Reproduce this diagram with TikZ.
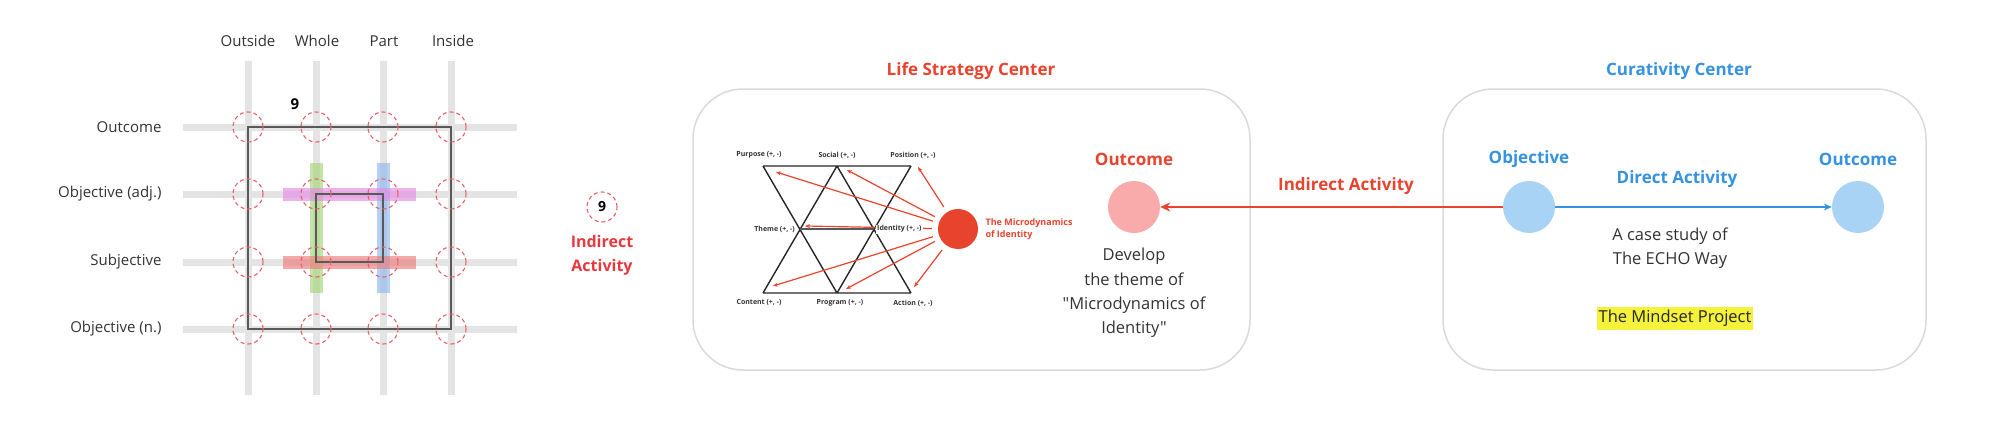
\documentclass[tikz,border=0pt]{standalone}
\usepackage{fontspec}
\setmainfont{Open Sans}[Ligatures=TeXOff]
\usetikzlibrary{arrows.meta}
\definecolor{gridgray}{HTML}{E4E4E4}
\definecolor{ringred}{HTML}{E8606A}
\definecolor{lifered}{HTML}{E8432D}
\definecolor{actred}{HTML}{E8383F}
\definecolor{curablue}{HTML}{3592E0}
\definecolor{dotblue}{HTML}{A9D3F5}
\definecolor{dotpink}{HTML}{F9AAAA}
\definecolor{boxgray}{HTML}{DADADA}
\definecolor{textgray}{HTML}{333333}
\definecolor{markyellow}{HTML}{F4F23A}
\definecolor{barpink}{HTML}{E38BE3}
\definecolor{barred}{HTML}{EE7B7B}
\definecolor{bargreen}{HTML}{A6D67A}
\definecolor{barblue}{HTML}{8FB8EE}
\begin{document}
\begin{tikzpicture}[x=1pt, y=-1pt,
    axlabel/.style={font=\fontsize{15}{18}\selectfont, text=textgray},
    gridline/.style={gridgray, line width=7pt},
    band/.style={line width=13pt, opacity=0.65},
    frame/.style={black!65, line width=1.2pt},
    ring/.style={circle, draw=ringred, dash pattern=on 4pt off 3pt, line width=1.1pt, minimum size=30pt, inner sep=0pt},
    hub/.style={rounded corners=50pt, draw=boxgray, line width=1.5pt},
    title/.style={font=\fontsize{17}{20}\selectfont\bfseries},
    body/.style={font=\fontsize{16.5}{24.3}\selectfont, text=textgray, align=center},
    dot/.style={circle, minimum size=52pt, inner sep=0pt},
    vlabel/.style={font=\fontsize{7}{8}\selectfont\bfseries, text=textgray, inner sep=1pt},
    ray/.style={lifered, line width=1.2pt, -{Stealth[length=5pt,width=4pt]}, shorten <=6pt}
]
\useasboundingbox (0,0) rectangle (2000,428);

\foreach \x in {248,316,383,451} \draw[gridline] (\x,61) -- (\x,395);
\foreach \y in {127,194,262,329} \draw[gridline] (183,\y) -- (517,\y);

\node[axlabel] (outside) at (248,41) {Outside};
\node[axlabel] (whole) at (317,41) {Whole};
\node[axlabel] (part) at (384,41) {Part};
\node[axlabel] (inside) at (453,41) {Inside};
\node[axlabel, anchor=east] (outcome) at (165,127) {Outcome};
\node[axlabel, anchor=east] (objadj) at (165,194) {Objective (adj.)};
\node[axlabel, anchor=east] (subjective) at (165,262) {Subjective};
\node[axlabel, anchor=east] (objn) at (165,329) {Objective (n.)};

\draw[band, bargreen] (316,163) -- (316,293);
\draw[band, barblue] (383,163) -- (383,293);
\draw[band, barpink] (283,194) -- (416,194);
\draw[band, barred] (283,262) -- (416,262);

\draw[frame] (248,127) rectangle (451,329);
\draw[frame] (316,194) rectangle (383,262);

\foreach \x in {248,316,383,451}
  \foreach \y in {127,194,262,329}
    \node[ring] (ring-\x-\y) at (\x,\y) {};
\node[font=\fontsize{15}{18}\selectfont\bfseries] (nine) at (295,104) {9};

\node[ring, font=\fontsize{14}{16}\selectfont\bfseries] (badge) at (602,207) {9};
\node[align=center, text=actred, font=\fontsize{16}{24}\selectfont\bfseries] (indirect) at (602,255) {Indirect\\Activity};

\draw[hub] (693,89) rectangle (1250,370);
\node[title, text=lifered] (lifetitle) at (971,71) {Life Strategy Center};

\coordinate (tl) at (763,166);
\coordinate (tm) at (837,166);
\coordinate (tr) at (911,166);
\coordinate (bl) at (763,293);
\coordinate (bm) at (837,293);
\coordinate (br) at (911,293);
\coordinate (ml) at (800,229);
\coordinate (mr) at (874,229);
\draw[frame, black!85, line width=1.4pt] (tl) -- (tr) (bl) -- (br) (tl) -- (bm) (tm) -- (bl) (tm) -- (br) (tr) -- (bm);
\draw[frame] (ml) -- (mr);

\node[circle, fill=lifered, minimum size=40pt, inner sep=0pt] (micro) at (958,229) {};
\coordinate (topurpose) at (776,172);
\coordinate (tosocial) at (847,170);
\coordinate (toposition) at (918,167);
\coordinate (totheme) at (805,226);
\coordinate (tocontent) at (773,286);
\coordinate (toprogram) at (846,289);
\coordinate (toaction) at (914,287);
\draw[ray] (micro) -- (topurpose);
\draw[ray] (micro) -- (tosocial);
\draw[ray] (micro) -- (toposition);
\draw[ray] (micro) -- (totheme);
\draw[ray] (micro) -- (tocontent);
\draw[ray] (micro) -- (toprogram);
\draw[ray] (micro) -- (toaction);

\node[vlabel] (purpose) at (759,155) {Purpose (+, -)};
\node[vlabel] (social) at (837,155) {Social (+, -)};
\node[vlabel] (position) at (913,155) {Position (+, -)};
\node[vlabel, anchor=east] (theme) at (796,229) {Theme (+, -)};
\node[vlabel, anchor=west, fill=white] (identity) at (876,229) {Identity (+, -)};
\node[vlabel] (content) at (759,303) {Content (+, -)};
\node[vlabel] (program) at (840,303) {Program (+, -)};
\node[vlabel] (action) at (913,303) {Action (+, -)};
\node[anchor=west, align=left, text=lifered, font=\fontsize{9}{12.5}\selectfont\bfseries] (microtext) at (982,229) {The Microdynamics\\of Identity};

\node[title, text=lifered] (lifeoutlabel) at (1134,159) {Outcome};
\node[dot, fill=dotpink] (lifeout) at (1134,207) {};
\node[body] (develop) at (1134,293) {Develop\\the theme of\\"Microdynamics of\\Identity"};

\draw[hub] (1443,89) rectangle (1926,370);
\node[title, text=curablue] (curatitle) at (1679,71) {Curativity Center};
\node[title, text=curablue] (objlabel) at (1529,159) {Objective};
\node[dot, fill=dotblue] (objective) at (1529,207) {};
\node[title, text=curablue] (curaoutlabel) at (1858,159) {Outcome};
\node[dot, fill=dotblue] (curaout) at (1858,207) {};
\node[title, text=curablue] (directlabel) at (1677,179) {Direct Activity};
\node[body] (casestudy) at (1670,248) {A case study of\\The ECHO Way};
\node[body, fill=markyellow, text=black!85, inner xsep=2pt, inner ysep=0pt, minimum height=23pt] (mindset) at (1675,318) {The Mindset Project};

\draw[lifered, line width=2pt, -{Stealth[length=10pt,width=9pt]}] (objective) -- (lifeout);
\node[title, text=lifered] (indirectlabel) at (1346,186) {Indirect Activity};
\draw[curablue, line width=2pt, -{Stealth[length=8pt,width=7pt]}] (objective) -- (curaout);
\end{tikzpicture}
\end{document}
